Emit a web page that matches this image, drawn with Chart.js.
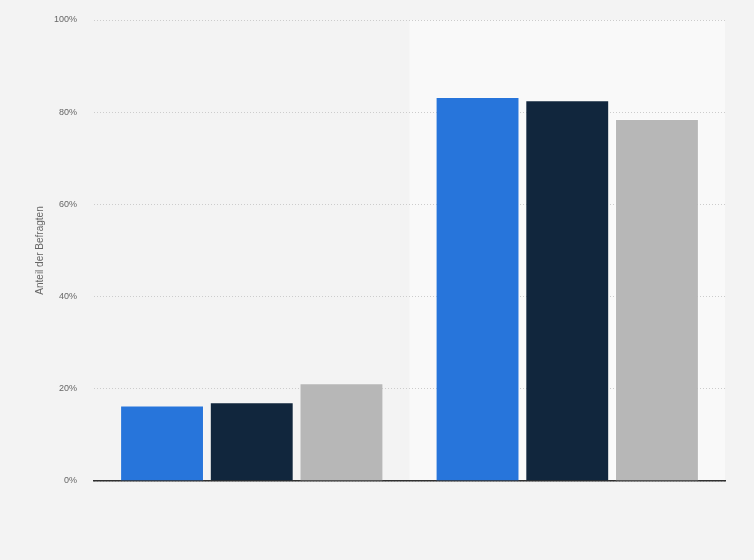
<!DOCTYPE html>
<html>
<head>
<meta charset="utf-8">
<script src="https://cdn.jsdelivr.net/npm/chart.js@4/dist/chart.umd.min.js"></script>
<style>
  html, body { margin: 0; padding: 0; background: #f3f3f3; }
  #wrap { width: 754px; height: 560px; position: relative; }
</style>
</head>
<body>
<div id="wrap"><canvas id="chart"></canvas></div>
<script>
// categories have no visible labels in the picture
const categories = ['', ''];
const seriesNames = ['Serie 1', 'Serie 2', 'Serie 3'];
const series1 = [16.4, 83.3];
const series2 = [17.1, 82.6];
const series3 = [21.2, 78.5];
const seriesColors = ['#2775db', '#11263d', '#b7b7b7'];
const yTicks = [0, 20, 40, 60, 80, 100];
const yTitle = 'Anteil der Befragten';

// page background + lighter band behind the second category
const bgPlugin = {
  id: 'bg',
  beforeDraw(chart) {
    const { ctx, chartArea, scales } = chart;
    ctx.save();
    ctx.fillStyle = '#f3f3f3';
    ctx.fillRect(0, 0, chart.width, chart.height);
    const x = scales.x;
    const half = (x.getPixelForValue(1) - x.getPixelForValue(0)) / 2;
    ctx.fillStyle = '#f9f9f9';
    const left = x.getPixelForValue(1) - half;
    ctx.fillRect(left, chartArea.top, chartArea.right - left, chartArea.bottom - chartArea.top);
    ctx.restore();
  }
};

const data = {
  labels: categories,
  datasets: [series1, series2, series3].map((vals, i) => ({
    label: seriesNames[i],
    data: vals,
    backgroundColor: seriesColors[i],
    borderColor: 'rgba(255,255,255,0.2)',
    borderWidth: 1,
    categoryPercentage: 0.853,
    barPercentage: 0.935
  }))
};

new Chart(document.getElementById('chart'), {
  type: 'bar',
  data: data,
  options: {
    responsive: true,
    maintainAspectRatio: false,
    animation: false,
    layout: { padding: { top: 20, right: 29, bottom: 0, left: 0 } },
    plugins: {
      legend: { display: false },
      tooltip: { enabled: false }
    },
    scales: {
      x: {
        ticks: { display: false },
        grid: { display: false, drawTicks: false },
        border: { display: true, color: '#2f2f2f', width: 1.5 },
        afterFit(scale) { scale.height = 79; }
      },
      y: {
        min: 0,
        max: 100,
        afterBuildTicks(scale) { scale.ticks = yTicks.map(v => ({ value: v })); },
        ticks: {
          color: '#666',
          font: { family: 'Liberation Sans, Arial, sans-serif', size: 9 },
          padding: 17,
          callback: v => v + '%'
        },
        grid: { color: '#cccccc', drawTicks: false, lineWidth: 1 },
        border: { display: false, dash: [1, 2] },
        title: {
          display: true,
          text: yTitle,
          color: '#666',
          font: { family: 'Liberation Sans, Arial, sans-serif', size: 10 },
          padding: { top: 34, bottom: 0 }
        },
        afterFit(scale) {
          scale.width = 94;
          scale.paddingTop = 0;
          scale.paddingBottom = 0;
        }
      }
    }
  },
  plugins: [bgPlugin]
});
</script>
</body>
</html>
